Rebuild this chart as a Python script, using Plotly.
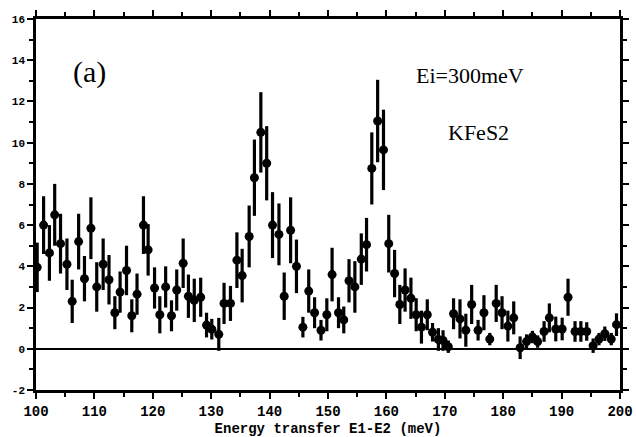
import plotly.graph_objects as go

energy = [100.2, 101.3, 102.3, 103.2, 104.2, 105.3, 106.2, 107.3, 108.3, 109.4,
          110.4, 111.5, 112.5, 113.5, 114.4, 115.5, 116.4, 117.3,
          118.4, 119.2, 120.3, 121.2, 122.2, 123.2, 124.1, 125.2, 126.1, 127.1,
          128.2, 129.2, 130.1, 131.3, 132.2, 133.3, 134.4, 135.3,
          136.5, 137.4, 138.5, 139.5, 140.5, 141.6, 142.5, 143.6, 144.6, 145.7,
          146.7, 147.7, 148.8, 149.8, 150.7, 151.8, 152.7, 153.6,
          154.6, 155.7, 156.6, 157.5, 158.5, 159.5, 160.4, 161.4, 162.3, 163.2,
          164.2, 165.1, 166.0, 167.0, 167.9, 168.9, 169.7, 170.6, 171.5,
          172.6, 173.6, 174.6, 175.7, 176.7, 177.7, 178.8, 179.8, 180.8, 181.8,
          182.9, 184.0, 185.0, 185.9, 187.0, 187.9, 189.0, 190.1, 191.1, 192.3,
          193.3, 194.3, 195.4, 196.4, 197.4, 198.5, 199.4]

intensity = [3.95, 6.0, 4.65, 6.5, 5.1, 4.1, 2.3, 5.2, 3.4, 5.85,
             3.0, 4.1, 3.35, 1.75, 2.75, 3.8, 1.6, 2.65,
             6.0, 4.8, 2.95, 1.65, 3.0, 1.6, 2.85, 4.15, 2.55, 2.35,
             2.5, 1.15, 0.95, 0.7, 2.2, 2.2, 4.3, 3.55,
             5.45, 8.3, 10.5, 9.0, 6.0, 5.55, 2.55, 5.75, 4.0, 1.05,
             2.8, 1.75, 0.9, 1.65, 3.6, 1.75, 1.4, 3.3,
             3.0, 4.35, 5.05, 8.75, 11.05, 9.65, 5.1, 3.65, 2.15, 2.85,
             2.45, 1.65, 1.05, 1.65, 0.8, 0.45, 0.4, 0.1, 1.7,
             1.45, 0.9, 2.15, 0.9, 1.75, 0.47, 2.2, 1.75, 1.1, 1.5,
             0.05, 0.35, 0.57, 0.35, 0.84, 1.5, 0.96, 0.96, 2.5, 0.84,
             0.84, 0.84, 0.15, 0.47, 0.73, 0.47, 1.17]

error = [1.2, 1.4, 1.35, 1.5, 1.45, 1.25, 1.05, 1.35, 1.1, 1.5,
         1.2, 1.25, 1.2, 0.8, 1.0, 1.2, 0.8, 1.0,
         1.4, 1.25, 1.0, 0.9, 1.0, 0.75, 1.0, 1.2, 1.05, 1.05,
         0.95, 0.6, 0.5, 0.8, 1.0, 0.85, 1.35, 1.3,
         1.5, 1.85, 1.95, 1.8, 1.6, 1.5, 1.15, 1.6, 1.3, 0.5,
         1.05, 0.75, 0.5, 0.8, 1.3, 0.75, 0.65, 1.05,
         1.25, 1.25, 1.3, 1.75, 2.0, 1.95, 1.4, 1.15, 0.95, 1.05,
         1.0, 0.8, 0.8, 0.75, 0.45, 0.55, 0.5, 0.3, 0.75,
         0.95, 0.8, 0.95, 0.5, 0.85, 0.3, 0.9, 0.8, 0.75, 0.8,
         0.55, 0.35, 0.3, 0.3, 0.5, 0.7, 0.6, 0.55, 0.9, 0.5,
         0.5, 0.45, 0.35, 0.3, 0.35, 0.3, 0.55]

x_ticks = [100, 110, 120, 130, 140, 150, 160, 170, 180, 190, 200]
y_ticks = [-2, 0, 2, 4, 6, 8, 10, 12, 14, 16]

fig = go.Figure()
fig.add_trace(go.Scatter(
    x=energy, y=intensity, mode="markers",
    marker=dict(color="black", size=9, symbol="circle"),
    error_y=dict(type="data", array=error, visible=True,
                 color="black", thickness=3.2, width=0),
    showlegend=False,
))

fig.update_layout(
    width=636, height=437,
    margin=dict(l=36, r=16, t=19, b=47),
    paper_bgcolor="white", plot_bgcolor="white",
    xaxis=dict(
        range=[100, 200], tickvals=x_ticks, ticktext=[str(v) for v in x_ticks],
        automargin=False,
        showgrid=False, zeroline=False, showline=True, linecolor="black",
        linewidth=2.5, mirror="ticks", ticks="outside", ticklen=6,
        tickwidth=2, tickcolor="black",
        tickfont=dict(family="Liberation Mono", size=14, color="black",
                      weight="bold"),
        minor=dict(dtick=5, ticks="outside", ticklen=4, tickwidth=1.5,
                   tickcolor="black", showgrid=False),
        title=dict(text="Energy transfer E1-E2 (meV)",
                   font=dict(family="Liberation Mono", size=14, color="black",
                             weight="bold"),
                   standoff=6),
    ),
    yaxis=dict(
        range=[-2, 16], tickvals=y_ticks, ticktext=[str(v) for v in y_ticks],
        automargin=False,
        showgrid=False, zeroline=True, zerolinecolor="black", zerolinewidth=1.5,
        showline=True, linecolor="black", linewidth=2.5, mirror="ticks",
        ticks="outside", ticklen=6, tickwidth=2, tickcolor="black",
        tickfont=dict(family="Liberation Mono", size=11, color="black",
                      weight="bold"),
        minor=dict(dtick=1, ticks="outside", ticklen=4, tickwidth=1.5,
                   tickcolor="black", showgrid=False),
    ),
    annotations=[
        dict(x=109.2, y=13.45, text="(a)", showarrow=False,
             font=dict(family="Liberation Serif", size=30, color="black")),
        dict(x=174.3, y=13.25, text="Ei=300meV", showarrow=False,
             font=dict(family="Liberation Serif", size=22, color="black")),
        dict(x=175.7, y=10.5, text="KFeS2", showarrow=False,
             font=dict(family="Liberation Serif", size=22, color="black")),
    ],
)

fig.write_html("out.html")
